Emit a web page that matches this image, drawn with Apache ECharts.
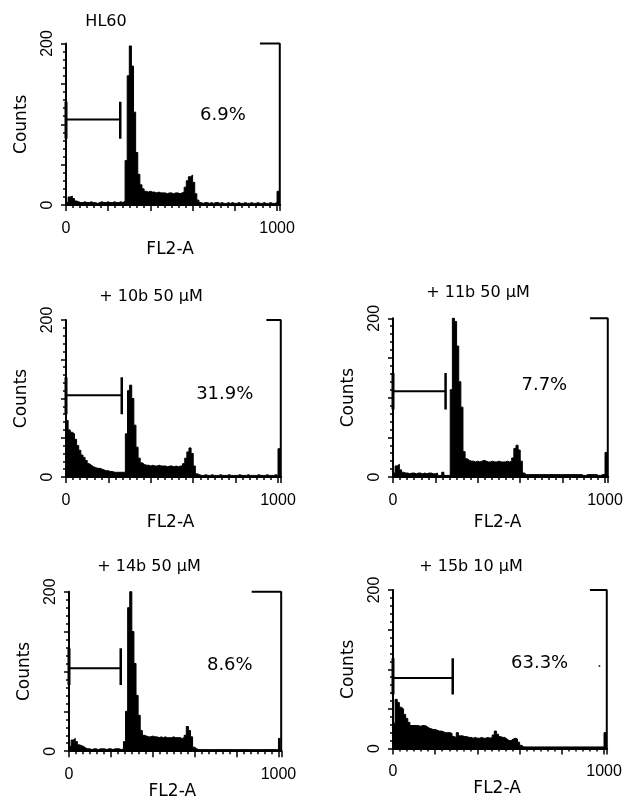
<!DOCTYPE html>
<html><head><meta charset="utf-8">
<script src="https://cdn.jsdelivr.net/npm/echarts@6/dist/echarts.min.js"></script>
<style>html,body{margin:0;padding:0;background:#fff}#c{width:628px;height:806px}</style>
</head><body><div id="c"></div>
<script>
// ---- data (channel bins of width 10 on FL2-A, counts per bin) ----
const binWidth = 10;
const xTickLabels = [0, 1000];
const yTickLabels = [0, 200];

const hl60 = [3,10,11,8,5,4,3,3,4,3, 3,4,3,3,2,3,4,3,3,4, 3,3,4,3,3,4,3,
  5,55,160,197,172,115,65,38,25,20,
  17,16,17,16,16,15,16,15,15,15,14,15,15,14,15,15,14,15,16,
  22,30,35,37,28,14,6,
  3,2,3,3,2,3,2,3,3,2, 3,2,2,3,2,3,2,2,3,2, 2,3,2,2,3,2,2,3,2,2, 3,2,2,3,2,2,3,
  17];
const b10 = [72,60,57,55,48,40,34,28,25,21, 17,15,13,12,11,11,10,9,8,8, 7,7,6,6,6,6,6,6,
  55,110,117,100,66,38,24,18,16,
  15,15,14,15,14,14,15,14,14,14,13,14,14,13,14,13,14,14,
  17,24,32,37,30,14,4,
  3,2,2,3,2,2,3,2,2,2, 3,2,2,2,3,2,2,2,2,3, 2,2,2,3,2,2,2,2,3,2, 2,2,3,2,2,2,3,2,
  36];
const b11 = [5,14,16,9,6, 5,5,4,5,5,4,5,5,4,5,4,5,5,4,4,5,
  2,2,6,2,2,2,
  110,200,196,165,120,88,32,23,
  21,20,20,19,20,19,20,21,20,19,19,20,19,19,20,19,19,19,20,19,20,
  24,36,40,34,20,5,
  3,3,3,3,3,3,3,3,3,3, 3,3,3,3,3,3,3,3,3,3, 3,3,3,3,3,3,3,2,2,3, 3,3,3,3,2,2,3,3,
  31];
const b14 = [6,14,16,12,8,7,6,4,
  3,3,2,3,3,2,3,3,3,2,3,3,2,3,3,3,2,3,
  12,50,180,200,150,110,70,45,26,20,
  19,18,18,19,18,18,17,18,17,18,17,17,17,18,17,17,17,16,17,
  20,31,26,18,5,3,
  2,2,2,2,2,2,2,2,2,2, 2,2,2,2,2,2,2,2,2,2, 2,2,2,2,2,2,2,2,2,2, 2,2,2,2,2,2,2,2,2,
  16];
const b15 = [32,62,58,52,50,43,38,33,29,29, 29,29,28,29,29,28,26,25,24,24,
  23,22,22,21,20,20,20,19,15,14, 20,16,16,15,15,14,14,13,14,13,
  13,14,13,13,14,13,14,17,22,18, 15,14,14,12,10,10,12,13,12,8,
  4,
  2,2,2,2,2,2,2,2,2,2, 2,2,2,2,2,2,2,2,2,2, 2,2,2,2,2,2,2,2,2,2, 2,2,2,2,2,2,2,2,2,
  20];

const panelTitles = ['HL60', '+ 10b 50 \u00b5M', '+ 11b 50 \u00b5M', '+ 14b 50 \u00b5M', '+ 15b 10 \u00b5M'];
const histograms = [hl60, b10, b11, b14, b15];
const percentText = ['6.9%', '31.9%', '7.7%', '8.6%', '63.3%'];
const percentX = [744, 749, 714, 768, 695];
const percentY = [111, 105, 115, 108, 107];
const gateEnd = [257, 263, 248, 247, 283];
const gateLevel = [106, 104, 108, 104, 89];
const gateTickLow = [82, 80, 85, 83, 68];
const gateTickHigh = [128, 127, 131, 129, 114];
const bracketStart = [919, 945, 929, 872, 933];
const bracketEnd = 1013;
const bracketTop = 200;
const specks = [[], [], [], [], [[978, 104]]];

// ---- layout ----
const xMax = 1015;
const gridBoxes = [
  {left: 66, top: 43.5, width: 214.2, height: 161.5},
  {left: 66, top: 320, width: 215.2, height: 157},
  {left: 393, top: 318.3, width: 215.2, height: 158.7},
  {left: 69, top: 591.7, width: 212.6, height: 159.5},
  {left: 393, top: 590, width: 214.2, height: 158.5}
];
const titlePos = [[106, 22], [151, 297], [478, 293], [149, 567], [471, 567]];
const nameGapX = [36, 37, 37, 29, 32];
const labelMarginX = [16, 16, 16, 15, 15];

const SANS = "'Liberation Sans', Arial, sans-serif";
const WIDE = "'DejaVu Sans', sans-serif";

const grid = [], xAxis = [], yAxis = [], series = [], graphic = [];
gridBoxes.forEach((g, i) => {
  grid.push(Object.assign({containLabel: false}, g));
  xAxis.push({
    type: 'value', gridIndex: i, min: 0, max: xMax, interval: 200,
    axisLine: {show: true, onZero: false, lineStyle: {color: '#000', width: 2}},
    axisTick: {show: true, length: 6, lineStyle: {color: '#000', width: 1.5}},
    minorTick: {show: true, splitNumber: 6, length: 3, lineStyle: {color: '#000', width: 1.5}},
    splitLine: {show: false}, minorSplitLine: {show: false},
    axisLabel: {show: true, margin: labelMarginX[i], color: '#000', fontSize: 16, fontFamily: SANS,
      showMaxLabel: false,
      formatter: v => xTickLabels.indexOf(v) >= 0 ? String(v) : ''},
    name: 'FL2-A', nameLocation: 'middle', nameGap: nameGapX[i],
    nameTextStyle: {color: '#000', fontSize: 17, fontFamily: WIDE, padding: [0, 0, 0, -6]}
  });
  yAxis.push({
    type: 'value', gridIndex: i, min: 0, max: 200, interval: 50,
    axisLine: {show: true, onZero: false, lineStyle: {color: '#000', width: 2}},
    axisTick: {show: true, length: 5, lineStyle: {color: '#000', width: 1.5}},
    minorTick: {show: true, splitNumber: 5, length: 3, lineStyle: {color: '#000', width: 1.5}},
    splitLine: {show: false}, minorSplitLine: {show: false},
    axisLabel: {show: true, rotate: 90, margin: 10, color: '#000', fontSize: 16, fontFamily: SANS,
      formatter: v => yTickLabels.indexOf(v) >= 0 ? String(v) : ''},
    name: 'Counts', nameLocation: 'middle', nameRotate: 90, nameGap: 36,
    nameTextStyle: {color: '#000', fontSize: 17, fontFamily: WIDE}
  });

  const hist = histograms[i];
  const pts = hist.map((v, k) => [k * binWidth, v]);
  pts.push([hist.length * binWidth, hist[hist.length - 1]]);
  const common = {xAxisIndex: i, yAxisIndex: i, silent: true, animation: false, clip: false, symbol: 'none'};
  series.push(Object.assign({
    type: 'line', step: 'end', data: pts,
    lineStyle: {color: '#000', width: 1}, areaStyle: {color: '#000', opacity: 1}
  }, common));
  series.push(Object.assign({
    type: 'line', data: [[0, gateLevel[i]], [gateEnd[i], gateLevel[i]]],
    lineStyle: {color: '#000', width: 2}
  }, common));
  series.push(Object.assign({
    type: 'line', data: [[gateEnd[i], gateTickLow[i]], [gateEnd[i], gateTickHigh[i]]],
    lineStyle: {color: '#000', width: 2.5}
  }, common));
  series.push(Object.assign({
    type: 'line', data: [[0, gateTickLow[i]], [0, gateTickHigh[i]]],
    lineStyle: {color: '#000', width: 3}
  }, common));
  series.push(Object.assign({
    type: 'line', data: [[bracketStart[i], bracketTop], [bracketEnd, bracketTop], [bracketEnd, 0]],
    lineStyle: {color: '#000', width: 2}
  }, common));
  series.push({
    type: 'scatter', xAxisIndex: i, yAxisIndex: i, silent: true, animation: false,
    symbol: 'circle', symbolSize: 0.1, itemStyle: {color: '#fff', opacity: 1},
    data: [[percentX[i], percentY[i]]],
    label: {show: true, position: [0, 0], align: 'center', verticalAlign: 'middle',
      formatter: percentText[i], color: '#000', opacity: 1,
      fontSize: 18, fontFamily: WIDE}
  });
  if (specks[i].length) {
    series.push({
      type: 'scatter', xAxisIndex: i, yAxisIndex: i, silent: true, animation: false,
      symbolSize: 2, itemStyle: {color: '#000'}, data: specks[i]
    });
  }
  graphic.push({
    type: 'text', x: titlePos[i][0], y: titlePos[i][1], silent: true,
    style: {text: panelTitles[i], align: 'center', verticalAlign: 'middle',
      textAlign: 'center', textVerticalAlign: 'middle',
      font: '16px ' + WIDE, fill: '#000'}
  });
});

const chart = echarts.init(document.getElementById('c'), null, {renderer: 'canvas'});
chart.setOption({animation: false, backgroundColor: '#fff', grid, xAxis, yAxis, series, graphic});
</script></body></html>
